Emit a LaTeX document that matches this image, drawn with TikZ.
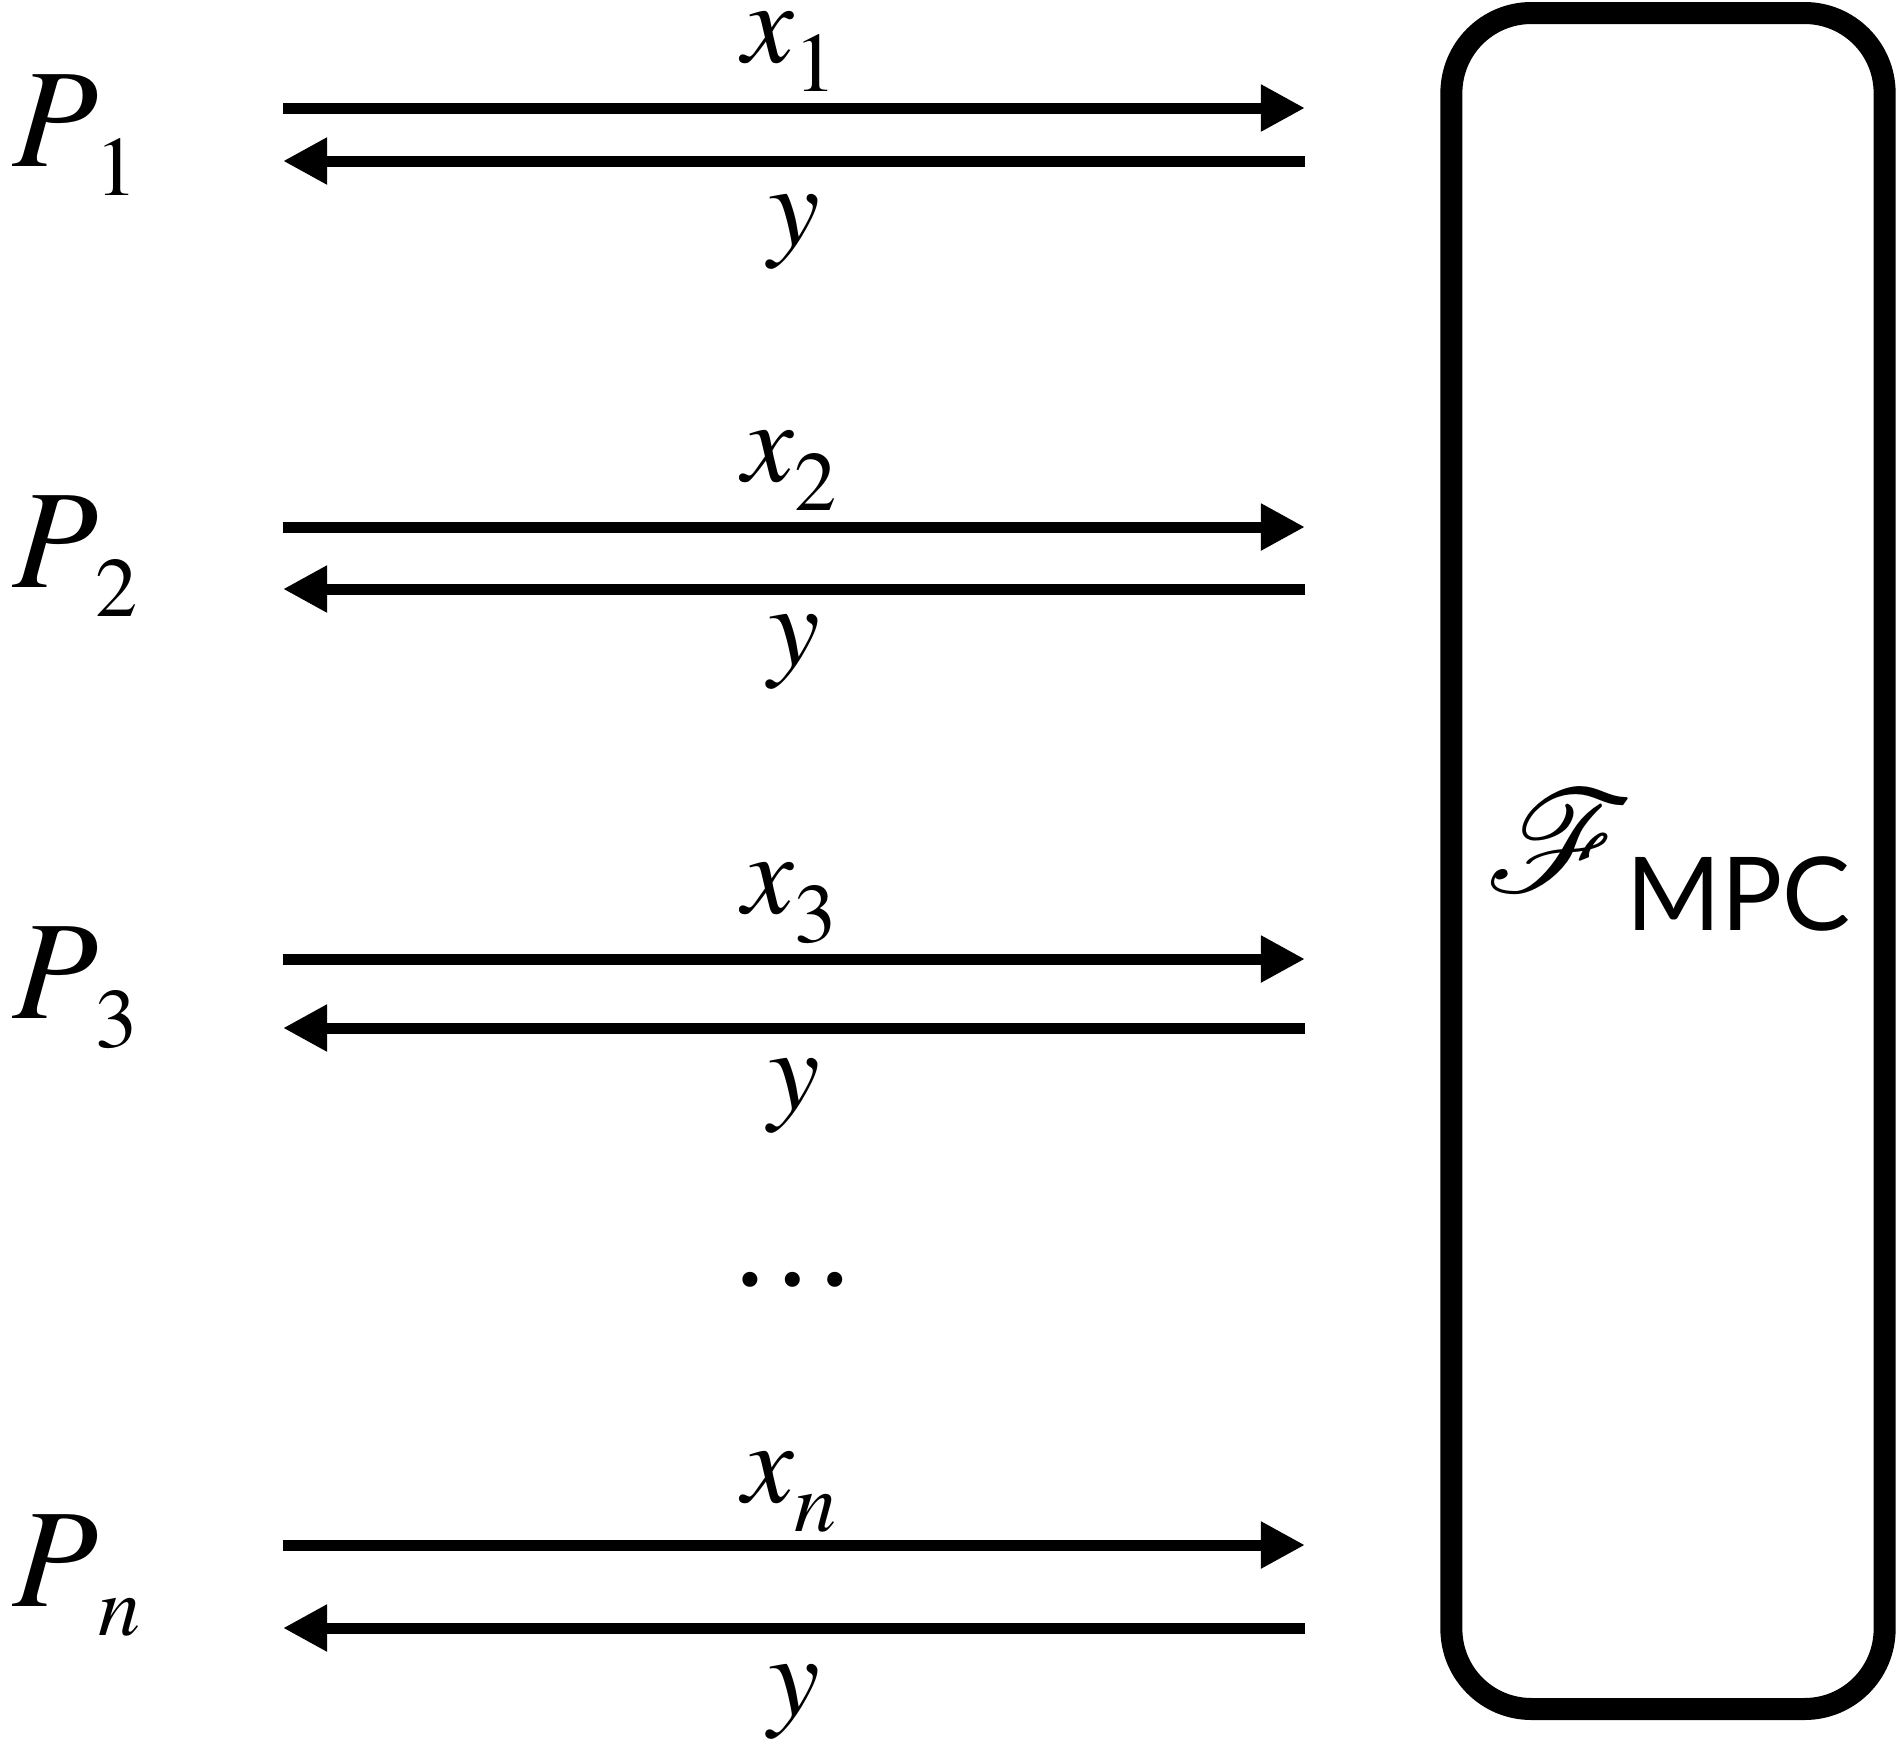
\documentclass[tikz,border=0pt]{standalone}
\usepackage{mathptmx}
\usepackage{mathrsfs}
\usepackage[no-math]{fontspec}
\setsansfont{Lato}
\newfontfamily\timesfont{Liberation Serif}
\usetikzlibrary{arrows.meta}

% lowered, smaller index as in the drawing
\newcommand{\lowsub}[1]{\raisebox{-8.5pt}{\fontsize{24}{28}\selectfont$#1$}}

\begin{document}
\begin{tikzpicture}
  [x=0.01cm,y=-0.01cm,
   every node/.style={inner sep=0pt,font=\fontsize{33}{40}\selectfont},
   party/.style={anchor=base west,font=\fontsize{40}{48}\selectfont},
   msg/.style={line width=0.11cm,-{Triangle[length=0.44cm,width=0.44cm]}}]
  \useasboundingbox (0,0) rectangle (1896,1739);

  \node[party] (p1) at (12,166) {$P$\kern-1pt\lowsub{1}};
  \node[party] (p2) at (12,587) {$P$\kern-1pt\lowsub{2}};
  \node[party] (p3) at (12,1018) {$P$\kern-1pt\lowsub{3}};
  \node[party] (pn) at (12,1606) {$P$\lowsub{n}};

  \node[draw,line width=0.22cm,rounded corners=0.8cm,minimum width=4.33cm,
    minimum height=16.95cm] (mpc) at (1668,861)
    {{\fontsize{10}{12}\selectfont\scalebox{4.1}{$\mathscr{F}$}}\kern-2pt%
     \raisebox{-11pt}{\fontsize{29}{34}\selectfont\sffamily MPC}};

  \foreach \i/\ya/\yb/\yx/\yy in {1/108/161/62/245, 2/527/589/481/665,
      3/959/1028/913/1109, n/1545/1628/1502/1715} {
    \coordinate (s\i) at (283,\ya);
    \coordinate (t\i) at (1305,\ya);
    \coordinate (u\i) at (1305,\yb);
    \coordinate (v\i) at (283,\yb);
    \draw[msg] (s\i) -- (t\i);
    \draw[msg] (u\i) -- (v\i);
    \node[anchor=base] (xl\i) at (790,\yx) {$x$\lowsub{\i}};
    \node[anchor=base] (yl\i) at (794,\yy) {$y$};
  }

  \node[anchor=base,font=\fontsize{36}{44}\timesfont] (dots) at (793,1285) {…};
\end{tikzpicture}
\end{document}
